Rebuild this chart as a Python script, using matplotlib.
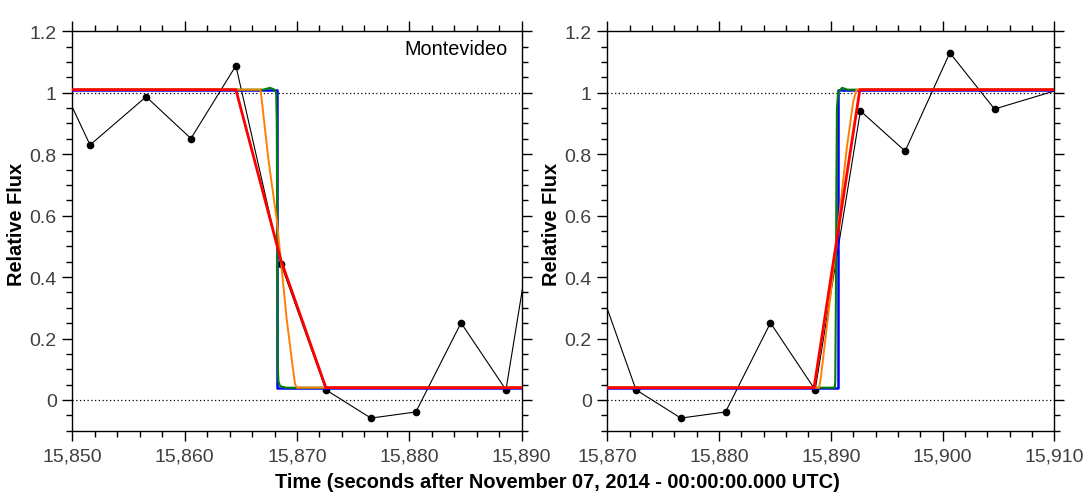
import matplotlib
matplotlib.use("Agg")
import matplotlib.pyplot as plt
from matplotlib.ticker import MultipleLocator, FuncFormatter

plt.rcParams['font.family'] = ['Liberation Sans', 'DejaVu Sans']

# observed light curve (time in s after 2014-11-07 00:00 UTC, relative flux)
obs_t = [15847.6, 15851.58, 15856.57, 15860.56, 15864.56, 15868.57, 15872.57,
         15876.58, 15880.58, 15884.6, 15888.6, 15892.65, 15896.65, 15900.65,
         15904.65, 15910.5]
obs_f = [1.14, 0.830, 0.987, 0.851, 1.088, 0.443, 0.033,
         -0.059, -0.039, 0.251, 0.033, 0.941, 0.810, 1.130,
         0.947, 1.011]

# disappearance models (left panel)
dis_blue_t = [15850, 15868.25, 15868.25, 15890]
dis_blue_f = [1.01, 1.01, 0.04, 0.04]
dis_green_t = [15850, 15867.0, 15867.6, 15868.0, 15868.15, 15868.2, 15868.25,
               15868.3, 15868.35, 15868.5, 15869.0, 15890]
dis_green_f = [1.01, 1.01, 1.016, 1.01, 1.0, 0.9, 0.5, 0.1, 0.06, 0.045, 0.04, 0.04]
dis_orange_t = [15850, 15866.75, 15866.85, 15867.45, 15867.69, 15868.19, 15868.64,
                15869.08, 15869.53, 15869.82, 15870.0, 15890]
dis_orange_f = [1.01, 1.01, 0.98, 0.785, 0.72, 0.589, 0.426, 0.264, 0.133, 0.052,
                0.04, 0.04]
dis_red_t = [15850, 15864.56, 15868.57, 15872.57, 15890]
dis_red_f = [1.01, 1.01, 0.455, 0.04, 0.04]

# reappearance models (right panel)
rea_blue_t = [15870, 15890.6, 15890.6, 15910]
rea_blue_f = [0.04, 0.04, 1.01, 1.01]
rea_green_t = [15870, 15890.35, 15890.4, 15890.45, 15890.5, 15890.55, 15890.65,
               15891.0, 15891.5, 15910]
rea_green_f = [0.04, 0.04, 0.06, 0.3, 0.7, 0.95, 1.0, 1.016, 1.01, 1.01]
rea_orange_t = [15870, 15888.95, 15889.1, 15889.94, 15890.7, 15891.42, 15892.0,
                15892.3, 15910]
rea_orange_f = [0.04, 0.04, 0.07, 0.33, 0.58, 0.817, 0.97, 1.01, 1.01]
rea_red_t = [15870, 15888.5, 15892.6, 15910]
rea_red_f = [0.04, 0.04, 1.01, 1.01]

x_ranges = [(15850, 15890), (15870, 15910)]
label_color = '#404040'


def style_axes(ax, xlim):
    ax.set_xlim(*xlim)
    ax.set_ylim(-0.1, 1.2)
    ax.xaxis.set_major_locator(MultipleLocator(10))
    ax.xaxis.set_minor_locator(MultipleLocator(2))
    ax.yaxis.set_major_locator(MultipleLocator(0.2))
    ax.yaxis.set_minor_locator(MultipleLocator(0.05))
    ax.xaxis.set_major_formatter(FuncFormatter(lambda v, p: f"{v:,.0f}"))
    ax.yaxis.set_major_formatter(FuncFormatter(lambda v, p: f"{v:.1f}".rstrip('0').rstrip('.') if abs(v) > 1e-9 else "0"))
    ax.tick_params(which='both', direction='out', top=True, right=True,
                   width=1.0, colors='black', labelcolor=label_color,
                   labelsize=14)
    ax.tick_params(which='major', length=7.2)
    ax.tick_params(which='minor', length=4.3)
    ax.tick_params(axis='x', pad=5)
    ax.tick_params(axis='y', pad=4)
    for s in ax.spines.values():
        s.set_linewidth(1.0)
    ax.axhline(1, color='black', lw=0.9, ls=(0, (1, 2)), zorder=1)
    ax.axhline(0, color='black', lw=0.9, ls=(0, (1, 2)), zorder=1)
    ax.set_ylabel('Relative Flux', fontsize=14.4, fontweight='bold')


fig = plt.figure(figsize=(10.92, 5.02), dpi=100)
ax1 = fig.add_axes([72.3 / 1092, 1 - 431.7 / 502, 449.4 / 1092, 399.4 / 502])
ax2 = fig.add_axes([607.3 / 1092, 1 - 431.7 / 502, 447 / 1092, 399.4 / 502])

panels = [
    (ax1, dis_blue_t, dis_blue_f, dis_green_t, dis_green_f,
     dis_orange_t, dis_orange_f, dis_red_t, dis_red_f),
    (ax2, rea_blue_t, rea_blue_f, rea_green_t, rea_green_f,
     rea_orange_t, rea_orange_f, rea_red_t, rea_red_f),
]

for (ax, bt, bf, gt, gf, ot, of, rt, rf), xr in zip(panels, x_ranges):
    style_axes(ax, xr)
    ax.plot(obs_t, obs_f, color='black', lw=0.8, marker='o', ms=4.5, zorder=3)
    ax.plot(bt, bf, color='#0000ff', lw=1.8, zorder=4)
    ax.plot(gt, gf, color='#008000', lw=1.5, zorder=5)
    ax.plot(ot, of, color='#ff8000', lw=1.4, zorder=6)
    ax.plot(rt, rf, color='#ff0000', lw=2.0, zorder=7)
    ax.yaxis.set_label_coords(-0.103, 0.518)

ax1.text(0.9695, 0.956, 'Montevideo', transform=ax1.transAxes, ha='right',
         va='center', fontsize=14.3, color='black')

fig.text(557 / 1092, 1 - 483 / 502,
         'Time (seconds after November 07, 2014 - 00:00:00.000 UTC)',
         ha='center', va='center', fontsize=14.4, fontweight='bold')

fig.savefig('out.png', dpi=100, facecolor='white')
